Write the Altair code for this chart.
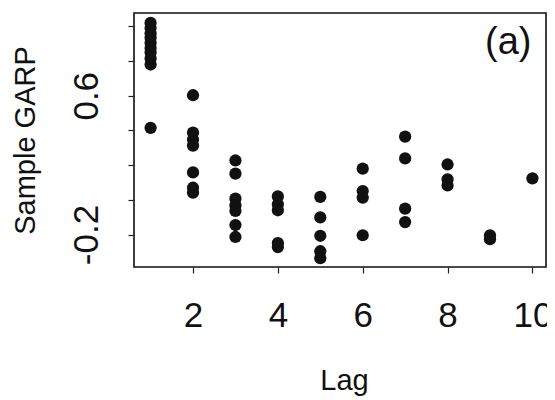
import altair as alt
import pandas as pd

# Sample GARP values per lag
lag_1 = [1.02, 0.99, 0.96, 0.935, 0.905, 0.875, 0.85, 0.815, 0.78, 0.415]
lag_2 = [0.603, 0.388, 0.348, 0.313, 0.158, 0.07, 0.042]
lag_3 = [0.227, 0.151, 0.007, -0.032, -0.064, -0.145, -0.214]
lag_4 = [0.02, -0.026, -0.06, -0.249, -0.272]
lag_5 = [0.017, -0.101, -0.207, -0.296, -0.336]
lag_6 = [0.18, 0.051, 0.013, -0.204]
lag_7 = [0.364, 0.239, -0.051, -0.128]
lag_8 = [0.204, 0.118, 0.083]
lag_9 = [-0.204, -0.227]
lag_10 = [0.124]

series = [lag_1, lag_2, lag_3, lag_4, lag_5, lag_6, lag_7, lag_8, lag_9, lag_10]

x_ticks = [2, 4, 6, 8, 10]
y_ticks = [-0.2, 0.0, 0.2, 0.4, 0.6, 0.8, 1.0]
y_labels = [-0.2, 0.6]

panel_label = ["(a)"]
panel_label_x = [9.43]
panel_label_y = [0.906]

rows = []
for i, vals in enumerate(series, start=1):
    for v in vals:
        rows.append({"Lag": i, "GARP": v})
df = pd.DataFrame(rows)

lab_df = pd.DataFrame({"t": panel_label, "x": panel_label_x, "y": panel_label_y})

FONT = "Liberation Sans, Arial, Helvetica, sans-serif"

label_expr = " : ".join(
    [f"abs(datum.value - ({v})) < 1e-6 ? '{v:.1f}'" for v in y_labels]
) + " : ''"

xscale = alt.Scale(domain=[0.609, 10.32], nice=False, zero=False)
yscale = alt.Scale(domain=[-0.387, 1.077], nice=False, zero=False)

points = alt.Chart(df).mark_circle(size=150, color="#111111", opacity=1).encode(
    x=alt.X("Lag:Q", scale=xscale,
            axis=alt.Axis(values=x_ticks, title="Lag", grid=False, domain=False,
                          tickSize=6, tickColor="#222", tickWidth=1.2,
                          labelFontSize=35, labelFont=FONT, labelColor="#111",
                          labelPadding=25, labelFlush=False, labelOverlap=False,
                          titleFont=FONT, titleFontSize=29, titleFontWeight="normal",
                          titleColor="#111", titleX=210, titleY=122,
                          titleBaseline="alphabetic", titleAlign="center")),
    y=alt.Y("GARP:Q", scale=yscale,
            axis=alt.Axis(values=y_ticks, title="Sample GARP", grid=False, domain=False,
                          tickSize=6, tickColor="#222", tickWidth=1.2,
                          labelExpr=label_expr, labelAngle=270,
                          labelAlign="center", labelBaseline="alphabetic",
                          labelFontSize=35, labelFont=FONT, labelColor="#111",
                          labelPadding=31, labelFlush=False, labelOverlap=False,
                          titleFont=FONT, titleFontSize=29, titleFontWeight="normal",
                          titleColor="#111", titleAngle=270, titleX=-100, titleY=127,
                          titleBaseline="alphabetic", titleAlign="center")),
)

label = alt.Chart(lab_df).mark_text(fontSize=38, font=FONT, color="#111",
                                     align="center", baseline="middle").encode(
    x=alt.X("x:Q", scale=xscale),
    y=alt.Y("y:Q", scale=yscale),
    text="t:N",
)

chart = (points + label).properties(
    width=412, height=254,
    autosize=alt.AutoSizeParams(type="none"),
    padding={"left": 126, "top": 5, "right": 1, "bottom": 131},
).configure(background="white").configure_view(stroke="#111", strokeWidth=1.6)

chart.save("out.html", embed_options={"renderer": "svg", "actions": False})
